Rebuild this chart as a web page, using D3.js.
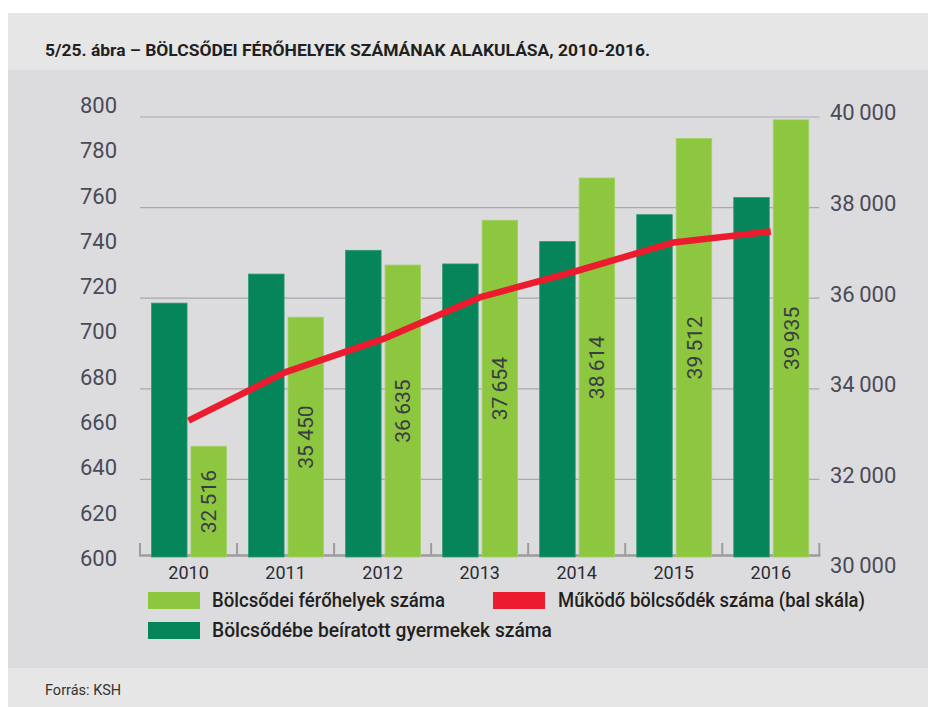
<!DOCTYPE html>
<html>
<head>
<meta charset="utf-8">
<script src="https://cdn.jsdelivr.net/npm/d3@7"></script>
<style>
  html, body { margin: 0; padding: 0; background: #ffffff; }
  svg { display: block; }
  text { font-family: Roboto, "Noto Sans", sans-serif; }
</style>
</head>
<body>
<svg id="chart" width="928" height="707"></svg>
<script>
// ---- data ----
const years = ["2010", "2011", "2012", "2013", "2014", "2015", "2016"];
const ferohelyek = [32516, 35450, 36635, 37654, 38614, 39512, 39935];      // light bars (right scale)
const beiratott = [35770, 36430, 36970, 36660, 37170, 37780, 38170];       // dark bars (right scale)
const bolcsodek = [662, 684, 699, 718, 730, 743, 748];                    // red line (left scale)
const leftTicks = [600, 620, 640, 660, 680, 700, 720, 740, 760, 780, 800];
const rightTicks = [30000, 32000, 34000, 36000, 38000, 40000];
const gridTicks = [32000, 34000, 36000, 38000, 40000];

const titleText = "5/25. ábra – BÖLCSŐDEI FÉRŐHELYEK SZÁMÁNAK ALAKULÁSA, 2010-2016.";
const sourceText = "Forrás: KSH";
const legendLight = "Bölcsődei férőhelyek száma";
const legendRed = "Működő bölcsődék száma (bal skála)";
const legendDark = "Bölcsődébe beíratott gyermekek száma";

// ---- colours ----
const cDark = "#06845a";
const cLight = "#8dc63f";
const cRed = "#ec1c2e";

const svg = d3.select("#chart");
const W = 928, H = 707;

// background panels
svg.append("rect").attr("x", 0).attr("y", 0).attr("width", W).attr("height", H).attr("fill", "#ffffff");
svg.append("rect").attr("x", 8).attr("y", 13).attr("width", W - 8).attr("height", 57).attr("fill", "#e6e6e6");
svg.append("rect").attr("x", 8).attr("y", 70).attr("width", W - 8).attr("height", 598).attr("fill", "#dcdcde");
svg.append("rect").attr("x", 8).attr("y", 668).attr("width", W - 8).attr("height", H - 668).attr("fill", "#e6e6e6");

// title & source
svg.append("text").attr("x", 45).attr("y", 56)
  .attr("font-size", 17).attr("font-weight", 700).attr("fill", "#231f20")
  .attr("textLength", 605).attr("lengthAdjust", "spacingAndGlyphs")
  .text(titleText);
svg.append("text").attr("x", 45).attr("y", 695)
  .attr("font-size", 14.5).attr("fill", "#333333")
  .text(sourceText);

// ---- scales ----
const x = d3.scaleBand().domain(years).range([140, 819.3]).padding(0);
const xs = d3.scaleBand().domain(["dark", "light"]).range([11.5, 86.5]).paddingInner(0.1);
const yBar = d3.scaleLinear().domain([30000, 40000]).range([557, 117]);
const yLine = d3.scaleLinear().domain([600, 800]).range([557, 117]);
// scales used for the axis labels / gridlines as drawn in the original
const yGridR = d3.scaleLinear().domain([30000, 40000]).range([570, 117]);
const yGridL = d3.scaleLinear().domain([600, 800]).range([570, 117]);

const loc = d3.formatLocale({ decimal: ",", thousands: "\u2009", grouping: [3], currency: ["", ""] });
const fmt = loc.format(",d");

// gridlines
svg.append("g").selectAll("line").data(gridTicks).join("line")
  .attr("x1", 140).attr("x2", 819.3)
  .attr("y1", d => yGridR(d)).attr("y2", d => yGridR(d))
  .attr("stroke", "#a9a9ab").attr("stroke-width", 1.2);

// x axis baseline and ticks
svg.append("line").attr("x1", 139).attr("x2", 820.5).attr("y1", 555.5).attr("y2", 555.5)
  .attr("stroke", "#9c9c9e").attr("stroke-width", 2.5);
const boundaries = years.map(d => x(d)).concat([x.range()[1]]);
svg.append("g").selectAll("line").data(boundaries).join("line")
  .attr("x1", d => d).attr("x2", d => d).attr("y1", 543).attr("y2", 556)
  .attr("stroke", "#9c9c9e").attr("stroke-width", 2);

// bars
const groups = svg.append("g").selectAll("g").data(years).join("g")
  .attr("transform", d => `translate(${x(d)},0)`);
groups.append("rect")
  .attr("x", xs("dark")).attr("width", xs.bandwidth())
  .attr("y", (d, i) => yBar(beiratott[i]))
  .attr("height", (d, i) => yBar(30000) - yBar(beiratott[i]))
  .attr("fill", cDark).attr("stroke", "#2f9a70").attr("stroke-width", 0.8);
groups.append("rect")
  .attr("x", xs("light")).attr("width", xs.bandwidth())
  .attr("y", (d, i) => yBar(ferohelyek[i]))
  .attr("height", (d, i) => yBar(30000) - yBar(ferohelyek[i]))
  .attr("fill", cLight).attr("stroke", "#a2d163").attr("stroke-width", 0.8);

// value labels (rotated) inside light bars
groups.append("text")
  .attr("transform", (d, i) => {
    const cx = xs("light") + xs.bandwidth() / 2;
    const cy = (yBar(ferohelyek[i]) + yBar(30000)) / 2;
    return `translate(${cx},${cy}) rotate(-90)`;
  })
  .attr("text-anchor", "middle").attr("dy", "0.36em")
  .attr("font-size", 21).attr("fill", "#3a3d44")
  .text((d, i) => fmt(ferohelyek[i]));

// red line
const line = d3.line()
  .x((d, i) => x(years[i]) + x.bandwidth() / 2)
  .y(d => yLine(d));
svg.append("path").datum(bolcsodek).attr("d", line)
  .attr("fill", "none").attr("stroke", cRed).attr("stroke-width", 6.5)
  .attr("stroke-linejoin", "round");

// left axis labels
svg.append("g").selectAll("text").data(leftTicks).join("text")
  .attr("x", 117).attr("y", d => yGridL(d) - 12)
  .attr("dy", "0.36em").attr("text-anchor", "end")
  .attr("font-size", 22).attr("fill", "#4a4a58")
  .text(d => fmt(d));

// right axis labels
svg.append("g").selectAll("text").data(rightTicks).join("text")
  .attr("x", 830).attr("y", d => yGridR(d) - 4.5)
  .attr("dy", "0.36em").attr("text-anchor", "start")
  .attr("font-size", 22).attr("fill", "#4a4a58")
  .text(d => fmt(d));

// year labels
svg.append("g").selectAll("text").data(years).join("text")
  .attr("x", d => x(d) + x.bandwidth() / 2).attr("y", 578.5)
  .attr("text-anchor", "middle")
  .attr("font-size", 18).attr("fill", "#2b2b33")
  .text(d => d);

// legend
const legend = [
  { label: legendLight, color: cLight, sx: 148, sy: 592, tx: 212, tw: 233 },
  { label: legendRed, color: cRed, sx: 493, sy: 592, tx: 558, tw: 307 },
  { label: legendDark, color: cDark, sx: 148, sy: 622, tx: 212, tw: 340 }
];
const lg = svg.append("g").selectAll("g").data(legend).join("g");
lg.append("rect")
  .attr("x", d => d.sx).attr("y", d => d.sy).attr("width", 52).attr("height", 17)
  .attr("fill", d => d.color);
lg.append("text")
  .attr("x", d => d.tx).attr("y", d => d.sy + 15)
  .attr("font-size", 19.5).attr("font-weight", 500).attr("fill", "#231f20")
  .attr("textLength", d => d.tw).attr("lengthAdjust", "spacingAndGlyphs")
  .text(d => d.label);
</script>
</body>
</html>
